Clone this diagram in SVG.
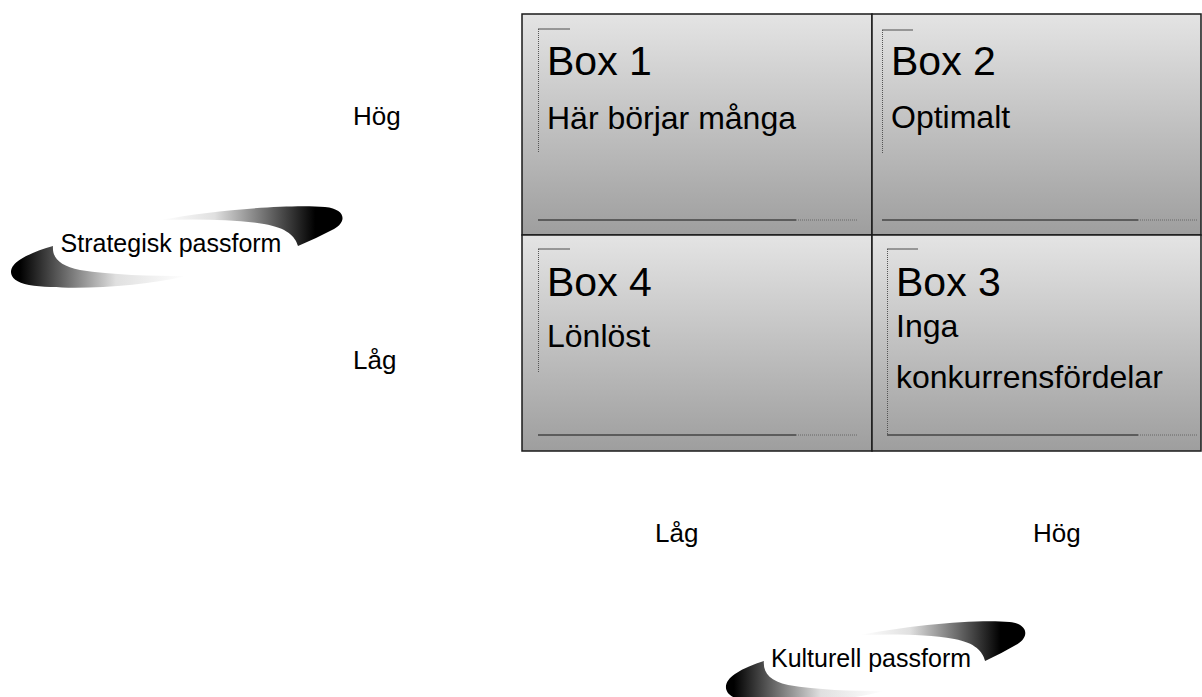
<svg xmlns="http://www.w3.org/2000/svg" width="1202" height="697" viewBox="0 0 1202 697">
  <style>
    text { font-family: "Liberation Sans", Arial, sans-serif; fill: #000; }
    .title { font-size: 41px; }
    .body { font-size: 32px; }
    .axis { font-size: 26px; }
    .swl { font-size: 25px; text-anchor: middle; }
    .cell { stroke: #1a1a1a; stroke-width: 1.5; }
    .tick { stroke: #666; stroke-width: 1.2; fill: none; }
    .dot { stroke: #555; stroke-width: 1; stroke-dasharray: 1 1; fill: none; }
    .rule { stroke: #444; stroke-width: 1.5; fill: none; }
    .rule-dot { stroke: #666; stroke-width: 1; stroke-dasharray: 1 1; fill: none; }
  </style>
  <defs>
    <linearGradient id="cellFill" x1="0" y1="0" x2="0" y2="1">
      <stop offset="0" stop-color="#e4e4e4"/>
      <stop offset="1" stop-color="#9e9e9e"/>
    </linearGradient>
    <linearGradient id="bandUpper" x1="0" y1="0" x2="1" y2="0">
      <stop offset="0" stop-color="#ffffff"/>
      <stop offset="0.3" stop-color="#e0e0e0"/>
      <stop offset="0.85" stop-color="#000000"/>
    </linearGradient>
    <linearGradient id="bandLower" x1="0" y1="0" x2="1" y2="0">
      <stop offset="0.05" stop-color="#000000"/>
      <stop offset="0.6" stop-color="#e0e0e0"/>
      <stop offset="1" stop-color="#ffffff"/>
    </linearGradient>
    <!-- two-part swoosh ring used behind the axis titles -->
    <g id="swoosh">
      <path fill="url(#bandUpper)" d="M160,220 C215,210 290,204 325,207 C346,209 347,222 334,229 C322,235 310,241 298,246 C295,236 287,228 264,224 C232,219 196,219 160,220 Z"/>
      <path fill="url(#bandLower)" d="M186,276 C140,287 70,291 29,285 C6,281 7,267 21,259 C31,253 42,249 53,246 C52,258 60,266 80,270 C112,275 150,276 186,276 Z"/>
    </g>
  </defs>

  <rect width="1202" height="697" fill="#ffffff"/>

  <!-- axis labels -->
  <g id="axis-labels">
    <text class="axis" x="353" y="125">Hög</text>
    <text class="axis" x="353" y="369">Låg</text>
    <text class="axis" x="655" y="542">Låg</text>
    <text class="axis" x="1033" y="542">Hög</text>
  </g>

  <!-- vertical axis title -->
  <g id="strategisk">
    <use href="#swoosh"/>
    <text class="swl" x="171" y="252">Strategisk passform</text>
  </g>

  <!-- horizontal axis title -->
  <g id="kulturell">
    <use href="#swoosh" transform="matrix(0.903 0 0 1 716 415)"/>
    <text class="swl" x="871" y="667">Kulturell passform</text>
  </g>

  <!-- Box 1: top left -->
  <g id="box1">
    <rect class="cell" x="522" y="14" width="350" height="221" fill="url(#cellFill)"/>
    <line class="tick" x1="538" y1="29" x2="570" y2="29"/>
    <line class="dot" x1="538.5" y1="29" x2="538.5" y2="153"/>
    <line class="rule" x1="538" y1="220" x2="796" y2="220"/>
    <line class="rule-dot" x1="796" y1="220" x2="857" y2="220"/>
    <text class="title" x="547" y="75">Box 1</text>
    <text class="body" x="547" y="129">Här börjar många</text>
  </g>

  <!-- Box 2: top right -->
  <g id="box2">
    <rect class="cell" x="872" y="14" width="329" height="221" fill="url(#cellFill)"/>
    <line class="tick" x1="882" y1="30" x2="913" y2="30"/>
    <line class="dot" x1="882.5" y1="30" x2="882.5" y2="153"/>
    <line class="rule" x1="882" y1="220" x2="1138" y2="220"/>
    <line class="rule-dot" x1="1138" y1="220" x2="1197" y2="220"/>
    <text class="title" x="891" y="75">Box 2</text>
    <text class="body" x="891" y="128">Optimalt</text>
  </g>

  <!-- Box 4: bottom left -->
  <g id="box4">
    <rect class="cell" x="522" y="235" width="350" height="216" fill="url(#cellFill)"/>
    <line class="tick" x1="538" y1="249" x2="570" y2="249"/>
    <line class="dot" x1="538.5" y1="249" x2="538.5" y2="372"/>
    <line class="rule" x1="538" y1="435" x2="796" y2="435"/>
    <line class="rule-dot" x1="796" y1="435" x2="857" y2="435"/>
    <text class="title" x="547" y="296">Box 4</text>
    <text class="body" x="547" y="347">Lönlöst</text>
  </g>

  <!-- Box 3: bottom right -->
  <g id="box3">
    <rect class="cell" x="872" y="235" width="329" height="216" fill="url(#cellFill)"/>
    <line class="tick" x1="887" y1="249" x2="918" y2="249"/>
    <line class="dot" x1="887.5" y1="249" x2="887.5" y2="435"/>
    <line class="rule" x1="887" y1="435" x2="1138" y2="435"/>
    <line class="rule-dot" x1="1138" y1="435" x2="1197" y2="435"/>
    <text class="title" x="896" y="296">Box 3</text>
    <text class="body" x="896" y="337">Inga</text>
    <text class="body" x="896" y="388">konkurrensfördelar</text>
  </g>

  <!-- no connectors in this chart -->
  <g id="connectors"/>
</svg>
